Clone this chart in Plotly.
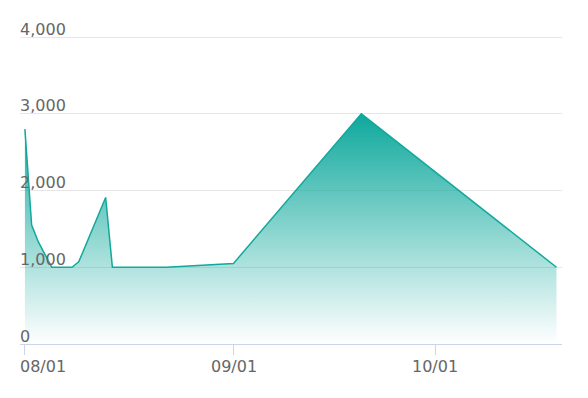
import plotly.graph_objects as go

dates = ["2023-08-01", "2023-08-02", "2023-08-03", "2023-08-05", "2023-08-08",
         "2023-08-09", "2023-08-13", "2023-08-14", "2023-08-22", "2023-09-01",
         "2023-09-20", "2023-10-19"]
values = [2800, 1550, 1330, 1000, 1000, 1070, 1910, 1000, 1000, 1050, 3000, 1000]

y_ticks = [0, 1000, 2000, 3000, 4000]
y_tick_text = ["0", "1,000", "2,000", "3,000", "4,000"]
x_ticks = ["2023-08-01", "2023-09-01", "2023-10-01"]
x_tick_text = ["08/01", "09/01", "10/01"]

teal = "rgb(18,168,156)"
font = "'DejaVu Sans', sans-serif"
label_color = "#666666"

fig = go.Figure()
fig.add_trace(go.Scatter(
    x=dates, y=values, mode="lines",
    line=dict(color=teal, width=1.5),
    fill="tozeroy",
    fillgradient=dict(
        type="vertical",
        colorscale=[[0, "rgba(18,170,158,0.0)"], [1, "rgba(14,168,156,1)"]],
        start=0, stop=3000,
    ),
    hoverinfo="skip",
))

# x labels (first label justified to the left edge)
for i, (d, t) in enumerate(zip(x_ticks, x_tick_text)):
    fig.add_annotation(
        x=d, y=0, xref="x", yref="paper", text=t, showarrow=False,
        xanchor="left" if i == 0 else "center", yanchor="top",
        xshift=-7 if i == 0 else 0, yshift=-11,
        font=dict(family=font, size=16, color=label_color),
    )

# y labels placed above their grid lines
for v, t in zip(y_ticks, y_tick_text):
    fig.add_annotation(
        x=0, y=v, xref="paper", yref="y", text=t, showarrow=False,
        xanchor="left", yanchor="middle", xshift=-2, yshift=8,
        font=dict(family=font, size=16, color=label_color),
    )

fig.update_layout(
    width=588, height=398,
    margin=dict(l=20, r=26, t=34, b=54),
    paper_bgcolor="white", plot_bgcolor="white",
    showlegend=False,
    xaxis=dict(
        type="date",
        range=["2023-07-31 06:30", "2023-10-19 19:40"],
        tickvals=x_ticks, ticktext=["", "", ""],
        showgrid=False, zeroline=False,
        showline=True, linecolor="#ccd6eb", linewidth=1,
        ticks="outside", ticklen=10, tickcolor="#ccd6eb", tickwidth=1,
    ),
    yaxis=dict(
        range=[0, 4040],
        tickvals=y_ticks, showticklabels=False,
        showgrid=True, gridcolor="#e6e6e6", gridwidth=1,
        zeroline=False, showline=False,
    ),
)

fig.write_html("out.html")
